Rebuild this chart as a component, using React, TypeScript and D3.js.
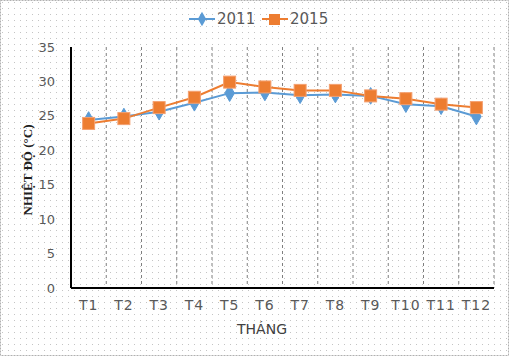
import React from "react";
import * as d3 from "d3";

const months = ["T1", "T2", "T3", "T4", "T5", "T6", "T7", "T8", "T9", "T10", "T11", "T12"];
const temp2011 = [24.4, 24.9, 25.6, 26.9, 28.3, 28.4, 28.0, 28.1, 27.9, 26.7, 26.4, 24.9];
const temp2015 = [23.9, 24.6, 26.2, 27.7, 29.9, 29.2, 28.7, 28.7, 27.9, 27.5, 26.7, 26.2];
const yTicks = [0, 5, 10, 15, 20, 25, 30, 35];
const seriesNames = ["2011", "2015"];

const W = 509, H = 356;
const M = { left: 71, right: 494, top: 47, bottom: 288 };
const BLUE = "#5b9bd5";
const ORANGE = "#ed7d31";

export default function App() {
  const x = d3.scaleBand<string>().domain(months).range([M.left, M.right]).padding(0);
  const y = d3.scaleLinear().domain([0, 35]).range([M.bottom, M.top]);
  const line = d3
    .line<number>()
    .x((_, i) => (x(months[i]) as number) + x.bandwidth() / 2)
    .y((d) => y(d));
  const cx = (i: number) => (x(months[i]) as number) + x.bandwidth() / 2;
  const font = "'DejaVu Sans', Verdana, sans-serif";

  return (
    <svg width={W} height={H} style={{ position: "absolute", left: 0, top: 0 }} fontFamily={font}>
      <defs>
        <pattern id="dots" width="6" height="6" patternUnits="userSpaceOnUse">
          <rect x="2" y="2" width="1" height="1" fill="#c4c4c4" />
        </pattern>
      </defs>
      <rect x={0} y={0} width={W} height={H} fill="#fff" />
      <rect x={0} y={0} width={W} height={H} fill="url(#dots)" />
      <rect x={0.5} y={0.5} width={W - 1} height={H - 1} fill="none" stroke="#b0b0b0" strokeDasharray="2,1" />

      {months.map((m) => {
        const xx = (x(m) as number) + x.bandwidth();
        return (
          <line key={m} x1={xx} x2={xx} y1={M.top} y2={M.bottom} stroke="#7f7f7f" strokeWidth={1} strokeDasharray="3,3" />
        );
      })}

      <line x1={M.left} x2={M.left} y1={M.top} y2={M.bottom} stroke="#000" strokeWidth={2} />
      <line x1={M.left} x2={M.right} y1={M.bottom} y2={M.bottom} stroke="#000" strokeWidth={2} />

      {yTicks.map((t) => (
        <text key={t} x={55} y={y(t)} dy="0.35em" textAnchor="end" fontSize={13} fill="#595959">
          {t}
        </text>
      ))}

      {months.map((m, i) => (
        <text key={m} x={cx(i)} y={305} dy="0.35em" textAnchor="middle" fontSize={14} letterSpacing={1} fill="#595959">
          {m}
        </text>
      ))}

      <text x={262} y={329} dy="0.35em" textAnchor="middle" fontSize={14} fill="#404040">
        THÁNG
      </text>

      <text
        transform={`translate(27,170) rotate(-90)`}
        textAnchor="middle"
        dy="0.35em"
        fontSize={13}
        fontWeight="bold"
        fontFamily="'Liberation Serif', 'Times New Roman', serif"
        fill="#1f1f1f"
      >
        NHIỆT ĐỘ (°C)
      </text>

      <path d={line(temp2011) as string} fill="none" stroke={BLUE} strokeWidth={2} />
      {temp2011.map((v, i) => (
        <path
          key={i}
          d={d3.symbol(d3.symbolDiamond, 80)() as string}
          transform={`translate(${cx(i)},${y(v)})`}
          fill={BLUE}
          stroke={BLUE}
        />
      ))}

      <path d={line(temp2015) as string} fill="none" stroke={ORANGE} strokeWidth={2} />
      {temp2015.map((v, i) => (
        <rect key={i} x={cx(i) - 6} y={y(v) - 6} width={12} height={12} fill={ORANGE} stroke="#f4a070" strokeWidth={1} />
      ))}

      <g>
        <line x1={189} x2={215} y1={19} y2={19} stroke={BLUE} strokeWidth={2} />
        <path d={d3.symbol(d3.symbolDiamond, 60)() as string} transform="translate(202,19)" fill={BLUE} />
        <text x={217} y={19} dy="0.35em" fontSize={15} fill="#595959">{seriesNames[0]}</text>
        <line x1={262} x2={288} y1={19} y2={19} stroke={ORANGE} strokeWidth={2} />
        <rect x={269} y={14} width={11} height={11} fill={ORANGE} />
        <text x={290} y={19} dy="0.35em" fontSize={15} fill="#595959">{seriesNames[1]}</text>
      </g>
    </svg>
  );
}
